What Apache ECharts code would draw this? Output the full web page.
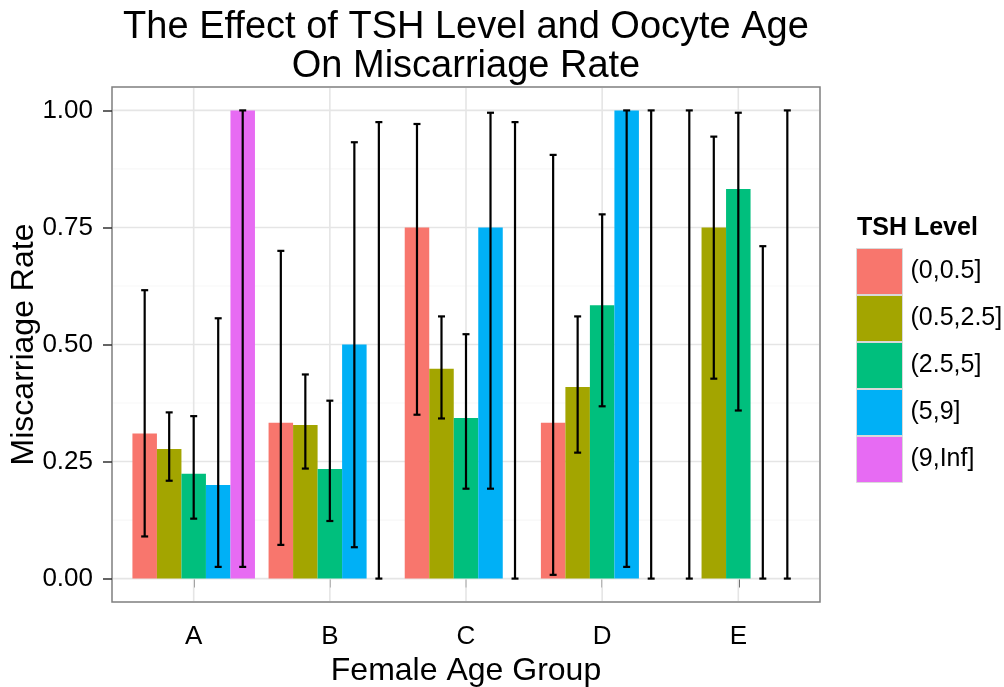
<!DOCTYPE html>
<html>
<head>
<meta charset="utf-8">
<script src="https://cdn.jsdelivr.net/npm/echarts@6/dist/echarts.min.js"></script>
<style>html,body{margin:0;padding:0;background:#fff}#c{width:1004px;height:687px}</style>
</head>
<body>
<div id="c"></div>
<script>
const categories = ['A', 'B', 'C', 'D', 'E'];
const tshLevels = ['(0,0.5]', '(0.5,2.5]', '(2.5,5]', '(5,9]', '(9,Inf]'];
const colors = ['#F8766D', '#A3A500', '#00BF7D', '#00B0F6', '#E76BF3'];

// Miscarriage rate per TSH level, across age groups A..E
const rate1 = [0.310, 0.333, 0.750, 0.333, 0];
const rate2 = [0.277, 0.328, 0.448, 0.409, 0.750];
const rate3 = [0.224, 0.234, 0.343, 0.584, 0.832];
const rate4 = [0.200, 0.500, 0.750, 1.000, 0];
const rate5 = [1.000, 0, 0, 0, 0];

// Error bar lower bounds
const low1 = [0.090, 0.072, 0.350, 0.008, 0];
const low2 = [0.209, 0.235, 0.342, 0.269, 0.427];
const low3 = [0.128, 0.123, 0.192, 0.368, 0.359];
const low4 = [0.025, 0.067, 0.192, 0.025, 0];
const low5 = [0.025, 0, 0, 0, 0];

// Error bar upper bounds
const high1 = [0.616, 0.700, 0.971, 0.905, 1.000];
const high2 = [0.355, 0.436, 0.560, 0.560, 0.944];
const high3 = [0.347, 0.380, 0.522, 0.778, 0.995];
const high4 = [0.556, 0.932, 0.995, 1.000, 0.710];
const high5 = [1.000, 0.975, 0.975, 1.000, 1.000];

const yTicks = [0, 0.25, 0.5, 0.75, 1];
const yMinor = [0.125, 0.375, 0.625, 0.875];
const xTicks = [1, 2, 3, 4, 5];

const rates = [rate1, rate2, rate3, rate4, rate5];
const lows = [low1, low2, low3, low4, low5];
const highs = [high1, high2, high3, high4, high5];

const FONT = 'Liberation Sans, Arial, sans-serif';
const chart = echarts.init(document.getElementById('c'), null, {renderer: 'canvas'});

const barSeries = tshLevels.map((name, g) => ({
  name: name,
  type: 'bar',
  data: rates[g].map((v, i) => [i + 1, v]),
  itemStyle: {color: colors[g]},
  barGap: '0%',
  barCategoryGap: '10%',
  z: 3,
  silent: true
}));

const errData = [];
tshLevels.forEach((name, g) => {
  categories.forEach((c, i) => {
    errData.push([i + 1, lows[g][i], highs[g][i], g]);
  });
});

const hLine = (color, width) => function (params, api) {
  const y = api.coord([1, api.value(1)])[1];
  const cs = params.coordSys;
  return {type: 'line', shape: {x1: cs.x + 1, y1: y, x2: cs.x + cs.width - 1, y2: y},
    style: {stroke: color, lineWidth: width}};
};

const option = {
  animation: false,
  textStyle: {fontFamily: FONT},
  graphic: [
    {type: 'text', x: 466, y: 8, style: {text: 'The Effect of TSH Level and Oocyte Age\nOn Miscarriage Rate',
      align: 'center', verticalAlign: 'top', font: '38px ' + FONT, lineHeight: 39, fill: '#000'}},
    {type: 'text', x: 857, y: 216, style: {text: 'TSH Level', align: 'left', verticalAlign: 'top',
      font: 'bold 25px ' + FONT, fill: '#000'}}
  ],
  grid: {left: 112, right: 184, top: 87, bottom: 85, show: true, backgroundColor: '#fff',
    borderColor: '#7f7f7f', borderWidth: 1.5, outerBoundsMode: 'none', containLabel: false},
  legend: {
    data: tshLevels, orient: 'vertical', left: 856, top: 248, padding: 0,
    itemWidth: 46, itemHeight: 46, itemGap: 0, icon: 'rect',
    itemStyle: {borderColor: '#d9d9d9', borderWidth: 1},
    textStyle: {fontSize: 25, color: '#000', fontFamily: FONT, padding: [0, 0, 0, 3]},
    selectedMode: false
  },
  xAxis: {
    type: 'value', min: 0.4, max: 5.6,
    axisLine: {show: false}, splitLine: {show: false},
    axisTick: {show: true, customValues: xTicks, length: 9, lineStyle: {color: '#333', width: 1.5}},
    axisLabel: {customValues: xTicks, formatter: v => categories[Math.round(v) - 1], fontSize: 26,
      color: '#000', margin: 22, fontFamily: FONT},
    name: 'Female Age Group', nameLocation: 'middle', nameGap: 48,
    nameTextStyle: {fontSize: 32, color: '#000', fontFamily: FONT}
  },
  yAxis: {
    type: 'value', min: -0.05, max: 1.05,
    axisLine: {show: false}, splitLine: {show: false},
    axisTick: {show: true, customValues: yTicks, length: 9, lineStyle: {color: '#333', width: 1.5}},
    axisLabel: {customValues: yTicks, formatter: v => v.toFixed(2), fontSize: 26, color: '#000',
      margin: 19, fontFamily: FONT},
    name: 'Miscarriage Rate', nameLocation: 'middle', nameGap: 72, nameMoveOverlap: false,
    nameTextStyle: {fontSize: 32, color: '#000', fontFamily: FONT}
  },
  series: [
    {type: 'custom', name: 'minorGrid', silent: true, z: 1,
      data: yMinor.map(v => [1, v]), encode: {x: 0, y: 1},
      renderItem: hLine('#f7f7f7', 1.2)},
    {type: 'custom', name: 'majorGrid', silent: true, z: 1,
      data: yTicks.map(v => [1, v]), encode: {x: 0, y: 1},
      renderItem: hLine('#e5e5e5', 1.6)},
    {type: 'custom', name: 'vGrid', silent: true, z: 1,
      data: xTicks.map(v => [v, 0]), encode: {x: 0, y: 1},
      renderItem: function (params, api) {
        const x = api.coord([api.value(0), 0])[0];
        const cs = params.coordSys;
        return {type: 'line', shape: {x1: x, y1: cs.y + 1, x2: x, y2: cs.y + cs.height - 1},
          style: {stroke: '#e5e5e5', lineWidth: 1.6}};
      }},
    ...barSeries,
    {type: 'custom', name: 'errorbars', silent: true, z: 5,
      data: errData, encode: {x: 0, y: [1, 2]},
      renderItem: function (params, api) {
        const x = api.value(0), lo = api.value(1), hi = api.value(2), g = api.value(3);
        const band = api.size([1, 0])[0];
        const cx = api.coord([x, 0])[0] + (g - 2) * band * 0.18;
        const yLo = api.coord([x, lo])[1], yHi = api.coord([x, hi])[1];
        const w = 3.5;
        const st = {stroke: '#000', lineWidth: 2.2};
        return {type: 'group', children: [
          {type: 'line', shape: {x1: cx, y1: yLo, x2: cx, y2: yHi}, style: st},
          {type: 'line', shape: {x1: cx - w, y1: yLo, x2: cx + w, y2: yLo}, style: st},
          {type: 'line', shape: {x1: cx - w, y1: yHi, x2: cx + w, y2: yHi}, style: st}
        ]};
      }}
  ]
};
chart.setOption(option);
</script>
</body>
</html>
